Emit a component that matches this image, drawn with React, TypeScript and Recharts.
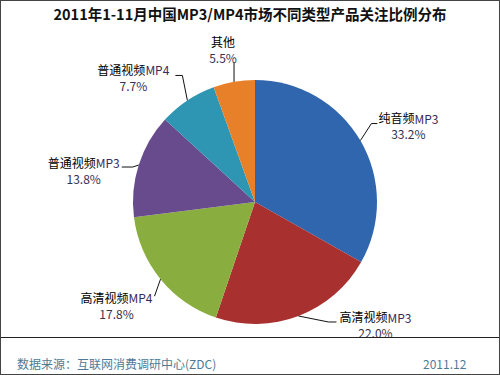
import { PieChart, Pie, Cell } from "recharts";

const categories = ["纯音频MP3", "高清视频MP3", "高清视频MP4", "普通视频MP3", "普通视频MP4", "其他"];
const shares = [33.2, 22.0, 17.8, 13.8, 7.7, 5.5];
const colors = ["#2F66AE", "#A8302F", "#8AAD3F", "#684B8C", "#2E95B3", "#E8802A"];

const title = "2011年1-11月中国MP3/MP4市场不同类型产品关注比例分布";
const source = "数据来源：互联网消费调研中心(ZDC)";
const dateLabel = "2011.12";

const data = categories.map((name, i) => ({ name, value: shares[i] }));

// label text centre + leader line, relative to the slice edge point
const labelLayout = [
  { tx: 48, ty: -23, line: [[11, -17], [17, -17]] },
  { tx: 77, ty: 1, line: [[30, 6], [38, 6]] },
  { tx: -44, ty: 18, line: [[-6, 17]] },
  { tx: -55, ty: -3, line: [[-6, 2], [-17, 2]] },
  { tx: -54, ty: -31, line: [[-5, -25], [-12, -25]] },
  { tx: -11, ty: -40, line: [[0, -19]] },
];

const RAD = Math.PI / 180;
const font = "'Noto Sans CJK SC', 'Noto Sans', sans-serif";

function edgePoint(props: any) {
  const { cx, cy, midAngle, outerRadius } = props;
  return [cx + outerRadius * Math.cos(-midAngle * RAD), cy + outerRadius * Math.sin(-midAngle * RAD)];
}

function renderLine(props: any) {
  const [ex, ey] = edgePoint(props);
  const lay = labelLayout[props.index];
  const pts = [[ex, ey], ...lay.line.map(([dx, dy]) => [ex + dx, ey + dy])];
  return (
    <polyline
      key={`ll-${props.index}`}
      points={pts.map((p) => `${p[0]},${p[1]}`).join(" ")}
      stroke="#111"
      strokeWidth={1}
      fill="none"
    />
  );
}

function renderLabel(props: any) {
  const { index, name, value } = props;
  const [ex, ey] = edgePoint(props);
  const lay = labelLayout[index];
  const m = String(name).match(/^(.*?)(MP\d)?$/) || [];
  return (
    <g key={`lbl-${index}`}>
      <text x={ex + lay.tx} y={ey + lay.ty} textAnchor="middle" dominantBaseline="central" fontSize={12} fontFamily={font} fill="#000">
        {m[1]}
        {m[2] && <tspan fill="#3a2a5a">{m[2]}</tspan>}
      </text>
      <text x={ex + lay.tx} y={ey + lay.ty + 16} textAnchor="middle" dominantBaseline="central" fontSize={12} fontFamily={font} fill="#3a3050">
        {Number(value).toFixed(1)}%
      </text>
    </g>
  );
}

export default function App() {
  return (
    <div style={{ position: "absolute", left: 0, top: 0, width: 500, height: 375, background: "#fff" }}>
      <PieChart width={500} height={375}>
        <Pie
          data={data}
          dataKey="value"
          nameKey="name"
          cx={250}
          cy={197}
          outerRadius={122}
          startAngle={90}
          endAngle={-270}
          stroke="none"
          label={renderLabel}
          labelLine={renderLine}
          isAnimationActive={false}
        >
          {data.map((d, i) => (
            <Cell key={d.name} fill={colors[i]} />
          ))}
        </Pie>
      </PieChart>
      <div style={{ position: "absolute", left: 0, top: 3, width: 500, textAlign: "center", fontFamily: font, fontWeight: 700, fontSize: 14.5, color: "#111" }}>
        {title}
      </div>
      <div style={{ position: "absolute", left: 0, top: 337, width: 500, height: 1, background: "#222" }} />
      <div style={{ position: "absolute", left: 17, top: 355, fontFamily: font, fontSize: 12, color: "#4f7a96" }}>{source}</div>
      <div style={{ position: "absolute", left: 423, top: 355, fontFamily: font, fontSize: 12, color: "#4f7a96" }}>{dateLabel}</div>
      <div style={{ position: "absolute", left: 0, top: 0, width: 498, height: 373, border: "1px solid #444" }} />
    </div>
  );
}
